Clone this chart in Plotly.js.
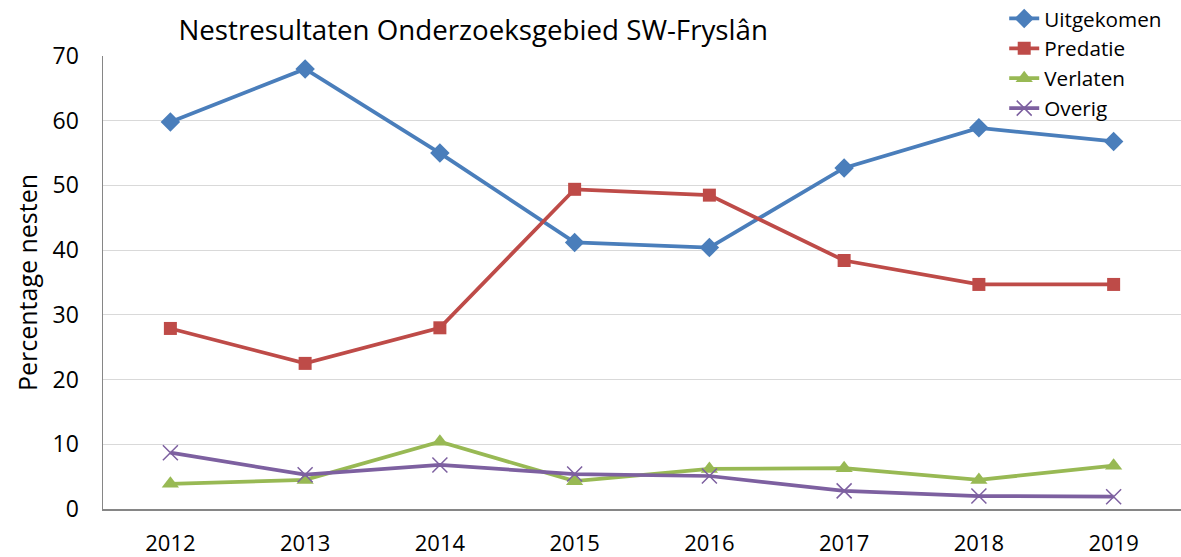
<!DOCTYPE html>
<html>
<head>
<meta charset="utf-8">
<script src="https://cdn.plot.ly/plotly-3.0.1.min.js"></script>
<style>html,body{margin:0;padding:0;background:#fff;}#chart{width:1181px;height:557px;}</style>
</head>
<body>
<div id="chart"></div>
<script>
const years = ['2012','2013','2014','2015','2016','2017','2018','2019'];
const uitgekomen = [59.8, 68.0, 55.0, 41.2, 40.4, 52.7, 58.9, 56.8];
const predatie = [27.9, 22.5, 28.0, 49.4, 48.5, 38.4, 34.7, 34.7];
const verlaten = [3.9, 4.5, 10.4, 4.3, 6.2, 6.3, 4.5, 6.7];
const overig = [8.7, 5.3, 6.8, 5.4, 5.1, 2.8, 2.0, 1.9];

const FONT = 'Open Sans, Noto Sans, sans-serif';
function tr(name, y, color, symbol, size, lineW) {
  return {
    x: years, y: y, name: name, type: 'scatter', mode: 'lines+markers',
    line: {color: color, width: 3.75},
    marker: {symbol: symbol, size: size, color: color, line: {color: color, width: lineW || 0}}
  };
}
const data = [
  tr('Uitgekomen', uitgekomen, '#4A7EBB', 'diamond', 15),
  tr('Predatie', predatie, '#BE4B48', 'square', 13),
  tr('Verlaten', verlaten, '#98B954', 'triangle-up', 15),
  tr('Overig', overig, '#7D60A0', 'x-thin-open', 15, 1.5)
];
const layout = {
  width: 1181, height: 557,
  margin: {l: 103, r: 0, t: 56, b: 48, autoexpand: false},
  paper_bgcolor: '#fff', plot_bgcolor: '#fff',
  font: {family: FONT, color: '#000'},
  title: {text: 'Nestresultaten Onderzoeksgebied SW-Fryslân', font: {size: 27.7, family: FONT, color: '#000'}, x: 0.07, xanchor: 'left', xref: 'paper', y: 0.945, yanchor: 'middle'},
  showlegend: true,
  legend: {x: 0.836, xanchor: 'left', y: 1.127, yanchor: 'top', font: {size: 20.7, family: FONT}, bgcolor: 'rgba(255,255,255,0)', tracegroupgap: 0, itemwidth: 30},
  xaxis: {type: 'category', range: [-0.5, 7.5], showgrid: false, showline: true, linecolor: '#868686', linewidth: 1.5, ticks: '', tickfont: {size: 22}, ticklabelstandoff: 14, zeroline: false},
  yaxis: {range: [0, 70], dtick: 10, showgrid: true, gridcolor: '#d9d9d9', gridwidth: 1, showline: true, linecolor: '#868686', linewidth: 1.5, ticks: '', tickfont: {size: 23}, ticklabelstandoff: 18, zeroline: false,
    title: {text: 'Percentage nesten', font: {size: 25}, standoff: 8}}
};
Plotly.newPlot('chart', data, layout, {displayModeBar: false, staticPlot: true});
</script>
</body>
</html>
